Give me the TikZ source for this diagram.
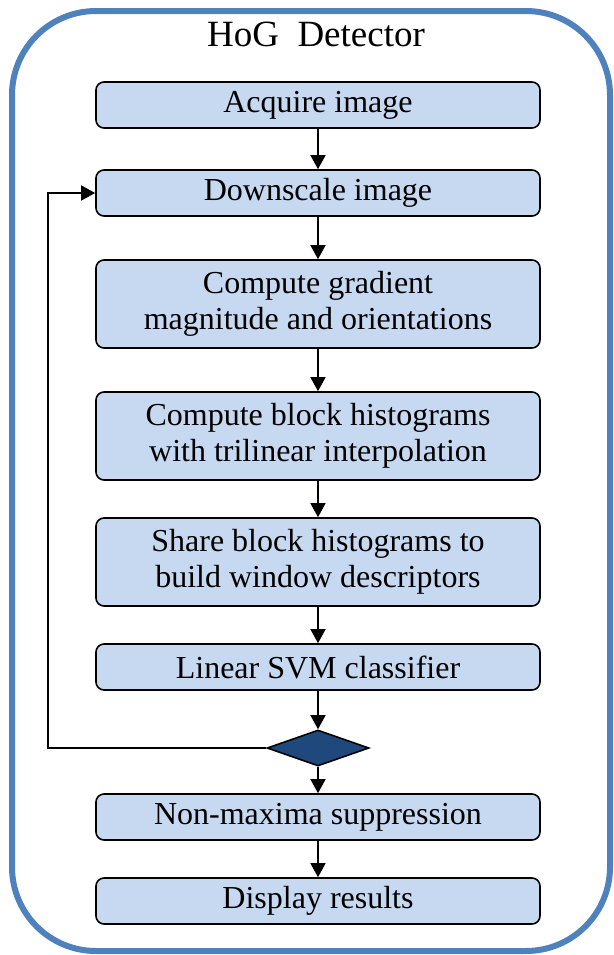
\documentclass[tikz,border=0pt]{standalone}
\usepackage{fontspec}
\setmainfont{Liberation Serif}
\usetikzlibrary{arrows.meta,shapes.geometric}

\definecolor{frameblue}{HTML}{4F81BD}
\definecolor{boxfill}{HTML}{C6D9F1}
\definecolor{decfill}{HTML}{1F497D}

\tikzset{
  stagebox/.style={draw, fill=boxfill, rounded corners=4pt, line width=0.8pt,
    minimum width=222pt, minimum height=23pt, inner sep=0pt, align=center,
    font=\fontsize{16}{18}\selectfont},
  tallbox/.style={stagebox, minimum height=44pt},
  flow/.style={-{Triangle[length=7pt,width=7.5pt]}, line width=0.7pt},
}

\begin{document}
\begin{tikzpicture}[x=0.5pt,y=-0.5pt]
        \useasboundingbox (0,0) rectangle (614,955);

        % Outer frame
        \draw[frameblue, line width=3pt, rounded corners=42pt] (12,11) rectangle (610,951);
        \node[font=\fontsize{18.5}{20}\selectfont] (title) at (316,34) {HoG\ \ Detector};

        % Processing stages
        \node[stagebox] (acquire) at (318,105) {Acquire image};
        \node[stagebox] (down) at (318,193) {Downscale image};
        \node[tallbox] (grad) at (318,304) {Compute gradient\\magnitude and orientations};
        \node[tallbox] (hist) at (318,436) {Compute block histograms\\with trilinear interpolation};
        \node[tallbox] (share) at (318,562) {Share block histograms to\\build window descriptors};
        \node[stagebox] (svm) at (318,667) {Linear SVM classifier};

        % Decision
        \node[diamond, draw, fill=decfill, line width=0.8pt, inner sep=0pt,
              minimum width=51pt, minimum height=18pt] (dec) at (318,748) {};

        \node[stagebox] (nms) at (318,817) {Non-maxima suppression};
        \node[stagebox] (show) at (318,901) {Display results};

        % Arrows between stages
        \draw[flow] (acquire) -- (down);
        \draw[flow] (down) -- (grad);
        \draw[flow] (grad) -- (hist);
        \draw[flow] (hist) -- (share);
        \draw[flow] (share) -- (svm);
        \draw[flow] (svm) -- (dec);
        \draw[flow] (dec) -- (nms);
        \draw[flow] (nms) -- (show);

        % Loop back to downscaling
        \coordinate (loop) at (48,748);
        \draw[flow] (dec.west) -- (loop) |- (down.west);
\end{tikzpicture}
\end{document}
